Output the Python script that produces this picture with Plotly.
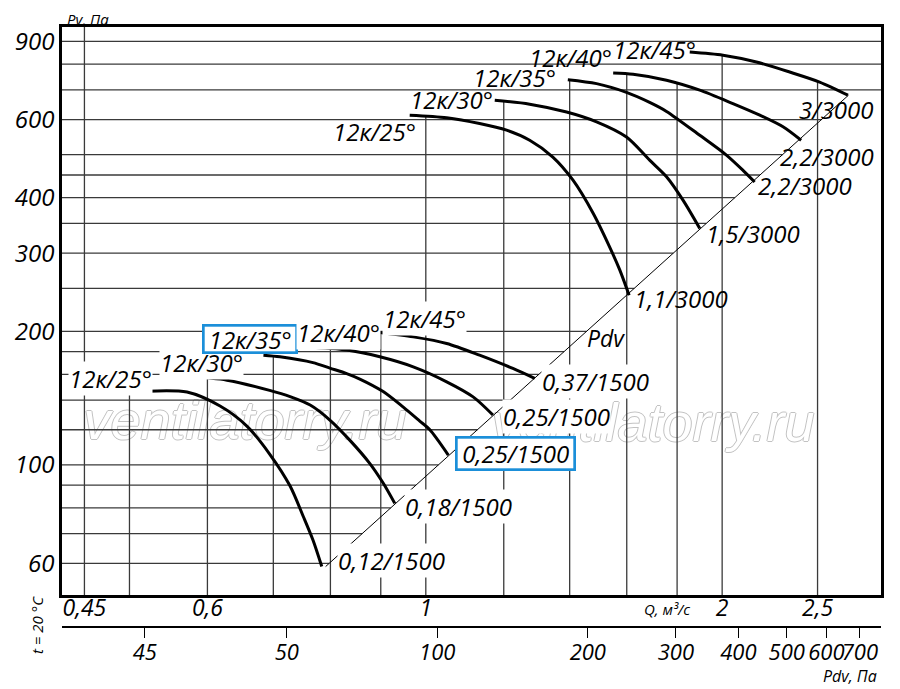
import numpy as np
import plotly.graph_objects as go

FONT = "Open Sans"
INK = "black"
GRID = "#3a3a3a"
BLUE = "#1b8fd9"

# blade setting written at the start of each curve
angles = ["12к/25°", "12к/30°", "12к/35°", "12к/40°", "12к/45°"]
# motor kW / rpm written at the end of each curve
motors_3000 = ["1,1/3000", "1,5/3000", "2,2/3000", "2,2/3000", "3/3000"]
motors_1500 = ["0,12/1500", "0,18/1500", "0,25/1500", "0,25/1500", "0,37/1500"]

# Q, m3/s and Pv, Pa, 3000 rpm
q_25_3000 = [0.963, 1.050, 1.134, 1.208, 1.275, 1.346, 1.411, 1.479, 1.537, 1.574, 1.609]
pv_25_3000 = [614, 606, 588, 568, 539, 494, 438, 369, 310, 275, 241]
q_30_3000 = [1.175, 1.275, 1.390, 1.491, 1.599, 1.688, 1.756, 1.825, 1.898]
pv_30_3000 = [663, 650, 624, 593, 548, 486, 446, 395, 341]
q_35_3000 = [1.394, 1.491, 1.599, 1.688, 1.756, 1.898, 2.020, 2.100, 2.158]
pv_35_3000 = [738, 723, 691, 656, 626, 553, 499, 461, 434]
q_40_3000 = [1.550, 1.624, 1.756, 1.898, 2.051, 2.184, 2.306, 2.406]
pv_40_3000 = [764, 759, 736, 699, 652, 614, 578, 539]
q_45_3000 = [1.854, 2.004, 2.167, 2.342, 2.512, 2.684]
pv_45_3000 = [852, 838, 809, 768, 729, 681]

# same for 1500 rpm
q_25_1500 = [0.522, 0.572, 0.618, 0.658, 0.694, 0.728, 0.751, 0.768, 0.784]
pv_25_1500 = [146.6, 145.9, 135.7, 122.3, 105.8, 89.6, 76.4, 67.7, 59.0]
q_30_1500 = [0.572, 0.628, 0.694, 0.728, 0.763, 0.799, 0.837, 0.877, 0.905, 0.930]
pv_30_1500 = [158.5, 155.2, 147.2, 142.5, 136.4, 126.2, 113.7, 100.8, 91.0, 81.9]
q_35_1500 = [0.684, 0.711, 0.768, 0.799, 0.831, 0.857, 0.905, 0.948, 0.986, 1.009, 1.054]
pv_35_1500 = [176.7, 175.2, 170.0, 165.2, 160.6, 156.1, 146.3, 135.1, 125.5, 120.1, 105.2]
q_40_1500 = [0.754, 0.831, 0.898, 0.971, 1.050, 1.117, 1.170]
pv_40_1500 = [184.5, 181.4, 175.2, 166.3, 153.9, 142.3, 129.5]
q_45_1500 = [0.898, 0.971, 1.050, 1.134, 1.226, 1.290]
pv_45_1500 = [198.8, 194.3, 187.8, 176.7, 164.9, 156.6]

# grid and ticks
pv_grid = [60, 70, 80, 90, 100, 120, 140, 160, 180, 200, 250, 300, 350, 400, 450, 500, 600, 700, 800, 900]
q_grid = [0.5, 0.6, 0.7, 0.8, 0.9, 1, 1.2, 1.4, 1.6, 1.8, 2, 2.5]
q_grid_full = [0.45]
pv_ticks = [60, 100, 200, 300, 400, 600, 900]
q_ticks = [0.45, 0.6, 1, 2, 2.5]
q_ticktext = ["0,45", "0,6", "1", "2", "2,5"]
pdv_ticks = [26, 50, 100, 200, 300, 400, 500, 600, 700]
pdv_ticktext = ["45", "50", "100", "200", "300", "400", "500", "600", "700"]

curves_3000 = [(q_25_3000, pv_25_3000), (q_30_3000, pv_30_3000), (q_35_3000, pv_35_3000),
               (q_40_3000, pv_40_3000), (q_45_3000, pv_45_3000)]
curves_1500 = [(q_25_1500, pv_25_1500), (q_30_1500, pv_30_1500), (q_35_1500, pv_35_1500),
               (q_40_1500, pv_40_1500), (q_45_1500, pv_45_1500)]
all_curves = curves_3000 + curves_1500

# axis extents
q_lo, q_hi = 0.427, 2.90
pv_lo, pv_hi = 50.9, 970
pdv_lo, pdv_hi = 17.76, 771.6

# the page body adds 8px around the figure
PAGE = 8
W, H = 900 - PAGE, 689 - PAGE
ML, MR, MT, MB = 62 - PAGE, 19, 27 - PAGE, 62
PLOT_L, PLOT_R, PLOT_T, PLOT_B = 62, 881, 27, 627
Y_BOTTOM = 0.0533
MAIN_B = PLOT_B - Y_BOTTOM * (PLOT_B - PLOT_T)


def paper(px, py):
    return (px - PLOT_L) / (PLOT_R - PLOT_L), (PLOT_B - py) / (PLOT_B - PLOT_T)


def to_data(px, py):
    fx = (px - PLOT_L) / (PLOT_R - PLOT_L)
    fy = (MAIN_B - py) / (MAIN_B - PLOT_T)
    q = 10 ** (np.log10(q_lo) + fx * np.log10(q_hi / q_lo))
    pv = 10 ** (np.log10(pv_lo) + fy * np.log10(pv_hi / pv_lo))
    return q, pv


# Pdv line (Pv = k*Q^2) goes through the ends of the curves
ends_q = np.array([c[0][-1] for c in all_curves])
ends_pv = np.array([c[1][-1] for c in all_curves])
k_pdv = np.mean(ends_pv / ends_q ** 2)


def top_of_curves(q):
    tops = [10 ** np.interp(np.log10(q), np.log10(cq), np.log10(cpv))
            for cq, cpv in all_curves if cq[0] <= q <= cq[-1]]
    if tops:
        return max(tops)
    first = min(all_curves, key=lambda c: c[0][0])
    return first[1][0]


fig = go.Figure()

# watermark sits under everything
wm_x, wm_y = zip(*[to_data(245, 425), to_data(653, 427)])
fig.add_trace(go.Scatter(
    x=wm_x, y=wm_y, mode="text", text=["ventilatorry.ru"] * 2, hoverinfo="skip",
    textfont=dict(family="Liberation Sans", size=54, color="white", style="italic",
                  shadow="1px 0 0 #c2c2c2, -1px 0 0 #c2c2c2, 0 1px 0 #c2c2c2, 0 -1px 0 #c2c2c2")))

# horizontal grid stops at the Pdv line
hx, hy = [], []
for pv in pv_grid:
    right = np.sqrt(pv / k_pdv) if pv <= ends_pv.max() else q_hi
    hx += [q_lo, min(right, q_hi), None]
    hy += [pv, pv, None]
# vertical grid stops under the top curve
vx, vy = [], []
for q in q_grid:
    vx += [q, q, None]
    vy += [pv_lo, top_of_curves(q), None]
for q in q_grid_full:
    vx += [q, q, None]
    vy += [pv_lo, pv_hi, None]

fig.add_trace(go.Scatter(x=hx, y=hy, mode="lines", line=dict(color=GRID, width=1.3), hoverinfo="skip"))
fig.add_trace(go.Scatter(x=vx, y=vy, mode="lines", line=dict(color=GRID, width=1.3), hoverinfo="skip"))

pdv_q = np.sqrt(np.array([ends_pv.min(), ends_pv.max()]) / k_pdv)
fig.add_trace(go.Scatter(x=pdv_q, y=k_pdv * pdv_q ** 2, mode="lines",
                         line=dict(color=INK, width=1), hoverinfo="skip"))

for cq, cpv in all_curves:
    fig.add_trace(go.Scatter(x=cq, y=cpv, mode="lines",
                             line=dict(color=INK, width=3, shape="spline", smoothing=0.8)))

# keeps the Pdv scale drawn
fig.add_trace(go.Scatter(x=[100], y=[100], xaxis="x2", mode="markers",
                         marker=dict(opacity=0), hoverinfo="skip"))

# label offsets from the curve point, px (right, down)
start_shift_3000 = [(-35, 16), (-43, -1), (-53, -2), (-43, -16), (-35, -3)]
start_shift_1500 = [(-37, -13), (15, -14), (-13, -16), (33, -14), (45, -14)]
end_shift_3000 = [(52, 3), (53, 5), (50, 4), (26, 16), (-11, 14)]
end_shift_1500 = [(70, -6), (64, 3), (67, -2), (64, 1), (61, 3)]
boxed_1500 = [False, False, True, False, False]


def italic(size):
    return dict(family=FONT, size=size, color=INK, style="italic")


annotations = []


def curve_label(text, q, pv, shift, white, box=None):
    a = dict(x=np.log10(q), y=np.log10(pv), xref="x", yref="y", text=text, showarrow=False,
             xanchor="center", yanchor="middle",
             xshift=shift[0], yshift=-shift[1], font=italic(24), borderpad=0,
             bgcolor="white" if white else "rgba(0,0,0,0)")
    if box:
        a.update(bordercolor=BLUE, borderwidth=2.7, borderpad=1, width=box[0], height=box[1])
    return a


for i, (cq, cpv) in enumerate(curves_3000):
    annotations.append(curve_label(angles[i], cq[0], cpv[0], start_shift_3000[i], False))
    annotations.append(curve_label(motors_3000[i], cq[-1], cpv[-1], end_shift_3000[i], False))
for i, (cq, cpv) in enumerate(curves_1500):
    annotations.append(curve_label(angles[i], cq[0], cpv[0], start_shift_1500[i], True,
                                   (89, 23) if boxed_1500[i] else None))
    annotations.append(curve_label(motors_1500[i], cq[-1], cpv[-1], end_shift_1500[i], True,
                                   (114, 28) if boxed_1500[i] else None))


def free_text(text, px, py, size, angle=0):
    x, y = paper(px, py)
    return dict(x=x, y=y, xref="paper", yref="paper", text=text, showarrow=False, textangle=angle,
                xanchor="center", yanchor="middle", font=italic(size))


annotations += [
    free_text("Pv, Па", 88, 19, 15),
    free_text("Q, м³/с", 667, 609, 15),
    free_text("Pdv, Па", 850, 676, 16),
    free_text("t = 20 °C", 37, 625, 15, angle=-90),
    free_text("Pdv", 606, 338, 23),
]

fig.update_layout(
    width=W, height=H,
    margin=dict(l=ML, r=MR, t=MT, b=MB),
    plot_bgcolor="white", paper_bgcolor="white",
    showlegend=False,
    font=dict(family=FONT, color=INK),
    annotations=annotations,
    xaxis=dict(type="log", range=[np.log10(q_lo), np.log10(q_hi)], showgrid=False, zeroline=False,
               showline=True, linecolor=INK, linewidth=2.5, mirror=True, ticks="",
               tickvals=q_ticks, ticktext=q_ticktext, tickfont=italic(23), tickangle=0,
               ticklabelstandoff=-9, automargin=False),
    yaxis=dict(type="log", range=[np.log10(pv_lo), np.log10(pv_hi)], domain=[Y_BOTTOM, 1],
               showgrid=False, zeroline=False, showline=True, linecolor=INK, linewidth=2.5,
               mirror=True, ticks="", tickvals=pv_ticks, ticktext=[str(v) for v in pv_ticks],
               tickfont=italic(24), automargin=False),
    xaxis2=dict(type="log", range=[np.log10(pdv_lo), np.log10(pdv_hi)], overlaying="x",
                anchor="free", position=0, side="bottom", showgrid=False, zeroline=False,
                showline=True, linecolor=INK, linewidth=2.3, ticks="outside", ticklen=10,
                tickwidth=1.3, tickcolor=INK, tickvals=pdv_ticks, ticktext=pdv_ticktext,
                tickfont=italic(22), tickangle=0, ticklabelstandoff=-5, automargin=False),
)

fig.write_html("out.html")
